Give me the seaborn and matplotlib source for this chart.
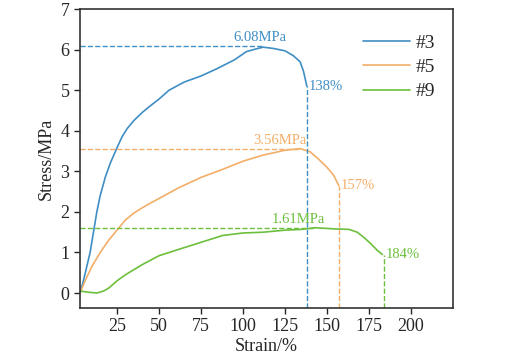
import numpy as np
import pandas as pd
import seaborn as sns
import matplotlib.pyplot as plt

# stress-strain curves
strain_3 = [3, 5, 7, 9, 11, 13, 15, 18, 21, 25, 28, 31, 35, 40, 45, 50, 56, 65,
            75, 84, 95, 102, 108, 112, 118, 125, 130, 134, 136, 138]
stress_3 = [0, 0.3, 0.65, 1.0, 1.5, 2.0, 2.4, 2.85, 3.2, 3.58, 3.85, 4.05, 4.25,
            4.45, 4.62, 4.78, 5.0, 5.2, 5.35, 5.52, 5.75, 5.95, 6.02, 6.06, 6.03,
            5.97, 5.85, 5.7, 5.47, 5.1]

strain_5 = [3, 6, 10, 15, 20, 25, 30, 35, 40, 45, 50, 62, 75, 88, 100, 112,
            125, 134, 140, 145, 150, 154, 157]
stress_5 = [0, 0.3, 0.65, 1.0, 1.3, 1.55, 1.8, 1.97, 2.1, 2.22, 2.33, 2.6,
            2.85, 3.05, 3.25, 3.4, 3.52, 3.56, 3.48, 3.3, 3.1, 2.9, 2.65]

strain_9 = [3, 8, 13, 17, 20, 25, 30, 40, 50, 62, 75, 88, 100, 112, 125, 135,
            143, 155, 163, 168, 172, 176, 180, 183]
stress_9 = [0.05, 0.02, 0.0, 0.05, 0.12, 0.3, 0.45, 0.7, 0.92, 1.08, 1.25, 1.42,
            1.48, 1.5, 1.55, 1.57, 1.61, 1.58, 1.57, 1.5, 1.37, 1.22, 1.05, 0.95]

samples = ["#3", "#5", "#9"]
peak_stress = [6.08, 3.56, 1.61]
peak_strain = [112, 134, 143]
break_strain = [138, 157, 184]
break_stress = [5.1, 2.65, 0.95]
colors = ["#3f8ec4", "#f2ae68", "#6cbf3c"]

df = pd.concat([
    pd.DataFrame({"strain": strain_3, "stress": stress_3, "sample": "#3"}),
    pd.DataFrame({"strain": strain_5, "stress": stress_5, "sample": "#5"}),
    pd.DataFrame({"strain": strain_9, "stress": stress_9, "sample": "#9"}),
])

sns.set_style("ticks")
plt.rcParams["font.family"] = ["Liberation Serif", "DejaVu Serif"]

fig = plt.figure(figsize=(5.13, 3.62), dpi=100)
ax = fig.add_axes([0.156, 0.149, 0.727, 0.826])

sns.lineplot(data=df, x="strain", y="stress", hue="sample", palette=colors,
             sort=False, estimator=None, linewidth=1.2, ax=ax)

xmin, xmax = 3, 225
ymin, ymax = -0.37, 7.0
ax.set_xlim(xmin, xmax)
ax.set_ylim(ymin, ymax)

# label x offsets relative to the peak
label_dx = [-2, -12, -10]
for i in range(3):
    c = colors[i]
    ax.plot([xmin, peak_strain[i]], [peak_stress[i], peak_stress[i]], ls="--",
            color=c, lw=1.0)
    ax.plot([break_strain[i], break_strain[i]], [ymin, break_stress[i]], ls="--",
            color=c, lw=1.0)
    ax.text(peak_strain[i] + label_dx[i], peak_stress[i] + 0.05,
            f"{peak_stress[i]:.2f}MPa", color=c, fontsize=10.5, ha="center",
            va="bottom")
    ax.text(break_strain[i] + 1, break_stress[i], f"{break_strain[i]}%",
            color=c, fontsize=10.5, ha="left", va="center")

ax.set_xticks([25, 50, 75, 100, 125, 150, 175, 200])
ax.set_yticks(range(0, 8))
ax.tick_params(labelsize=13, direction="out", length=4, width=1)
ax.set_xlabel("Strain/%", fontsize=13, labelpad=2)
ax.set_ylabel("Stress/MPa", fontsize=13, labelpad=4)

for s in ax.spines.values():
    s.set_color("#333333")
    s.set_linewidth(1.2)

ax.legend(title=None, frameon=False, fontsize=14, loc="upper right",
          bbox_to_anchor=(1.0, 0.975), handlelength=2.4, handletextpad=0.3,
          labelspacing=0.35)

fig.savefig("out.png", dpi=100)
